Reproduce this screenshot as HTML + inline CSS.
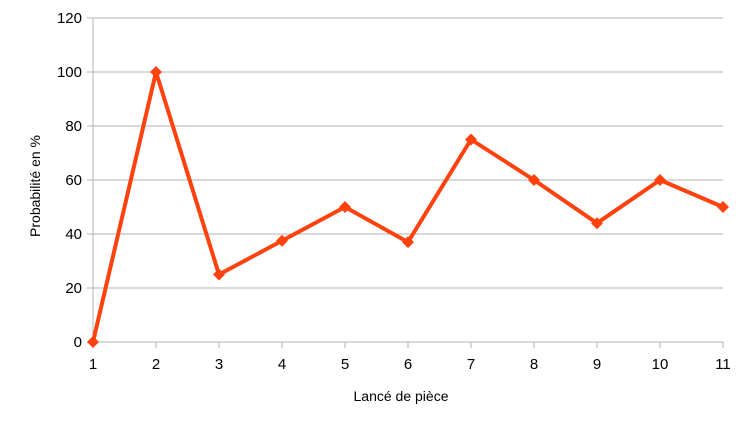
<!DOCTYPE html>
<html><head><meta charset="utf-8"><style>
html,body{margin:0;padding:0;background:#fff;}
svg{display:block;font-family:"Liberation Sans",sans-serif;}
</style></head><body>
<svg id="chart" width="756" height="427" viewBox="0 0 756 427">
<g id="grid"></g>
<g id="axes"></g>
<g id="series"></g>
<text x="401" y="401" text-anchor="middle" font-size="14" fill="#000">Lancé de pièce</text>
<text transform="translate(40,186) rotate(-90)" text-anchor="middle" font-size="14" fill="#000">Probabilité en %</text>
</svg>
<script>
const categories = [1,2,3,4,5,6,7,8,9,10,11];
const values = [0,100,25,37.5,50,37,75,60,44,60,50];
const yTicks = [0,20,40,60,80,100,120];
const NS="http://www.w3.org/2000/svg";
const x0=93,x1=723,yTop=18,yBot=342,yMax=120;
function xs(i){return x0+(x1-x0)*i/(categories.length-1);}
function ys(v){return yBot-(yBot-yTop)*v/yMax;}
function mk(tag,attrs,parent){const e=document.createElementNS(NS,tag);for(const k in attrs)e.setAttribute(k,attrs[k]);parent.appendChild(e);return e;}
const grid=document.getElementById('grid'),axes=document.getElementById('axes'),ser=document.getElementById('series');
yTicks.forEach(t=>{
  const y=ys(t);
  const l=mk('line',{x1:x0-6,x2:x1,y1:y,y2:y,stroke:'#b3b3b3','stroke-width':1},grid);
  
  
  const tx=mk('text',{x:x0-11,y:y+5,'text-anchor':'end','font-size':15,fill:'#000'},axes);
  tx.textContent=t;
  
  
});
const ya=mk('line',{x1:x0,x2:x0,y1:yTop,y2:yBot+6,stroke:'#b3b3b3'},axes);


categories.forEach((c,i)=>{
  const x=xs(i);
  const tk=mk('line',{x1:x,x2:x,y1:yBot,y2:yBot+6,stroke:'#b3b3b3'},axes);
  
  
  const tx=mk('text',{x:x,y:yBot+27,'text-anchor':'middle','font-size':15,fill:'#000'},axes);
  tx.textContent=c;
  
  
});
const pts=values.map((v,i)=>xs(i)+','+ys(v)).join(' ');
const pl=mk('polyline',{points:pts,fill:'none',stroke:'#ff420e','stroke-width':4,'stroke-linejoin':'round'},ser);


values.forEach((v,i)=>{
  const x=xs(i),y=ys(v),s=6;
  const m=mk('polygon',{points:`${x},${y-s} ${x+s},${y} ${x},${y+s} ${x-s},${y}`,fill:'#ff420e'},ser);
  
  
});
</script>
</body></html>
